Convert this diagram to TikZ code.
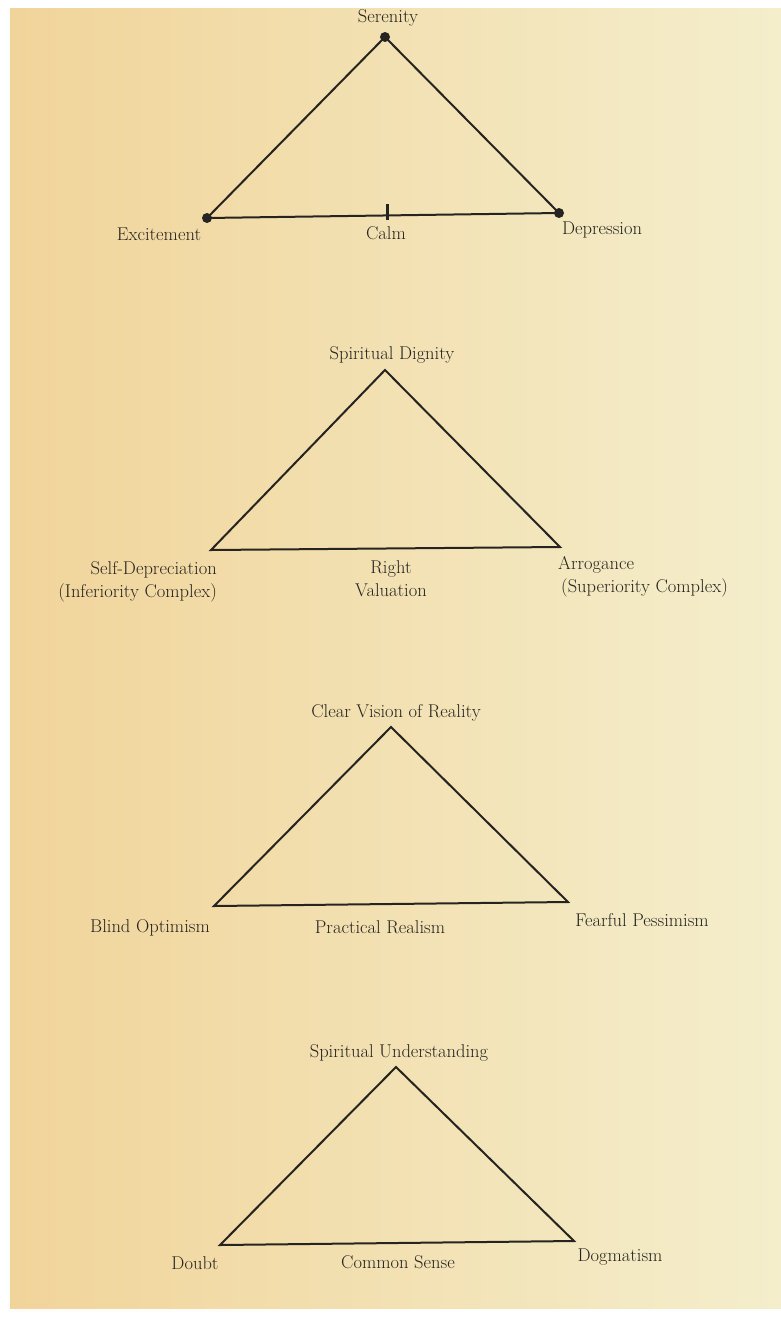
\documentclass[tikz,border=0pt]{standalone}
\usepackage{tikz}
\usetikzlibrary{calc}

\definecolor{ink}{RGB}{38,36,32}
\definecolor{paperleft}{RGB}{241,212,154}
\definecolor{paperright}{RGB}{244,238,204}

\tikzset{%
	side/.style={
		draw=ink,
		line width=2pt,
		line join=miter
	},
	vertex dot/.style={circle, fill=ink, inner sep=0pt, minimum size=10pt},
	label text/.style={
		text=ink,
		inner sep=0pt,
		font=\fontsize{18.5}{23}\selectfont
	},
}

\begin{document}
\begin{tikzpicture}[x=1pt, y=-1pt]
  % The page
\useasboundingbox (0,0) rectangle (781,1333);
\fill[white] (0,0) rectangle (781,1333);
\shade[left color=paperleft, right color=paperright] (10,8) rectangle (781,1308);

% corners of the four triangles
\foreach \t/\ax/\ay/\lx/\ly/\rx/\ry in {1/385/37/207/218/559/213,
                                         2/385/370/211/550/560/547,
                                         3/391/727/214/906/568/902,
                                         4/396/1067/220/1245/574/1241}
{
	\coordinate (top-\t) at (\ax,\ay);
	\coordinate (left-\t) at (\lx,\ly);
	\coordinate (right-\t) at (\rx,\ry);
	\draw [side] (top-\t) -- (left-\t) -- (right-\t) -- cycle;
}

% dots and mark of the first one
\foreach \c in {top,left,right}
\node [vertex dot] (\c-dot) at (\c-1) {};

\coordinate (calm-mark) at ($(left-1)!0.514!(right-1)$);
\draw [side, line width=3pt] (calm-mark) ++(0,-11) -- ++(0,16);

% labels
\node [label text] (serenity) at (388,18) {Serenity};
\node [label text] (excitement) at (159,234) {Excitement};
\node [label text] (calm) at (386,233) {Calm};
\node [label text] (depression) at (602,230) {Depression};

\node [label text] (dignity) at (392,355) {Spiritual Dignity};
\node [label text, align=right, anchor=east] (depreciation) at (217,582) {Self-Depreciation\\(Inferiority Complex)};
\node [label text, align=center] (valuation) at (391,579) {Right\\Valuation};
\node [label text, align=left, anchor=west] (arrogance) at (558,577) {Arrogance\\\hspace*{3pt}(Superiority Complex)};

\node [label text] (vision) at (396,713) {Clear Vision of Reality};
\node [label text] (optimism) at (150,928) {Blind Optimism};
\node [label text] (realism) at (380,927) {Practical Realism};
\node [label text] (pessimism) at (642,920) {Fearful Pessimism};

\node [label text] (understanding) at (399,1053) {Spiritual Understanding};
\node [label text] (doubt) at (195,1263) {Doubt};
\node [label text] (sense) at (398,1262) {Common Sense};
\node [label text] (dogmatism) at (620,1257) {Dogmatism};

\end{tikzpicture}
\end{document}
